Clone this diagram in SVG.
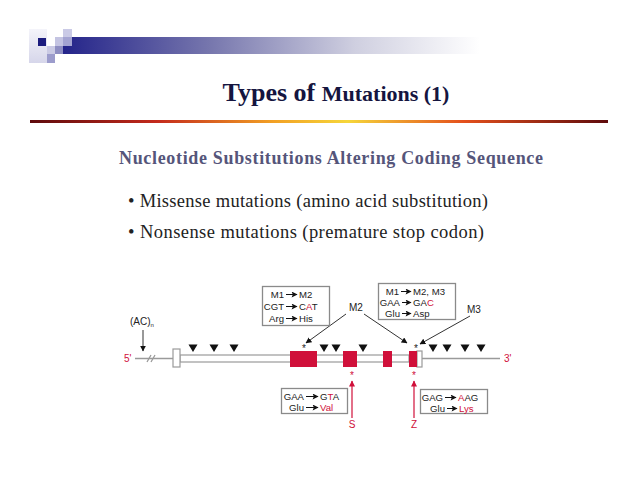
<svg xmlns="http://www.w3.org/2000/svg" width="638" height="493" viewBox="0 0 638 493">
<defs>
<linearGradient id="bar" x1="0" y1="0" x2="1" y2="0">
<stop offset="0" stop-color="#24248a"/>
<stop offset="0.35" stop-color="#7676ad"/>
<stop offset="0.7" stop-color="#cfcfe0"/>
<stop offset="1" stop-color="#ffffff"/>
</linearGradient>
<linearGradient id="rule" x1="0" y1="0" x2="1" y2="0">
<stop offset="0" stop-color="#5e0a0c"/>
<stop offset="0.22" stop-color="#c42a1c"/>
<stop offset="0.42" stop-color="#f2a024"/>
<stop offset="0.55" stop-color="#f6d63a"/>
<stop offset="0.75" stop-color="#e4501c"/>
<stop offset="1" stop-color="#5e0a0c"/>
</linearGradient>
<linearGradient id="sq" x1="0" y1="0" x2="0" y2="1">
<stop offset="0" stop-color="#f4f4fa"/>
<stop offset="1" stop-color="#d6d6ea"/>
</linearGradient>
<marker id="ah" viewBox="0 0 10 10" refX="9" refY="5" markerWidth="6" markerHeight="6" orient="auto" markerUnits="userSpaceOnUse">
<path d="M0,0 L10,5 L0,10 Z" fill="#111"/>
</marker>
<marker id="sh" viewBox="0 0 10 10" refX="9" refY="5" markerWidth="7" markerHeight="6" orient="auto" markerUnits="userSpaceOnUse">
<path d="M0,0 L10,5 L0,10 L2,5 Z" fill="#111"/>
</marker>
<marker id="rh" viewBox="0 0 10 10" refX="9" refY="5" markerWidth="7" markerHeight="6" orient="auto" markerUnits="userSpaceOnUse">
<path d="M0,0 L10,5 L0,10 Z" fill="#d0103a"/>
</marker>
</defs>
<style>
.ttl{font-family:"Liberation Serif",serif;font-weight:bold;fill:#15153f}
.sub{font-family:"Liberation Serif",serif;font-weight:bold;font-size:18px;fill:#55557a}
.bul{font-family:"Liberation Serif",serif;font-size:18.5px;fill:#222}
.t{font-family:"Liberation Sans",Arial,sans-serif;font-size:9.6px;fill:#222}
.r{fill:#d0103a}
.box{fill:#fff;stroke:#8a8a8a;stroke-width:1.3}
.ba{stroke:#111;stroke-width:1;fill:none;marker-end:url(#sh)}
.ln{stroke:#9a9a9a;stroke-width:1.3;fill:none}
.exon{fill:#d0103a}
.tri{fill:#111}
.ar{stroke:#333;stroke-width:1;fill:none;marker-end:url(#ah)}
.rar{stroke:#d0103a;stroke-width:1.2;fill:none;marker-end:url(#rh)}
.lab{font-family:"Liberation Sans",Arial,sans-serif;font-size:10px;fill:#222}
.rl{font-family:"Liberation Sans",Arial,sans-serif;font-size:10px;fill:#d0103a}
</style>

<g id="header">
<rect x="29" y="29" width="18" height="34" fill="url(#sq)"/>
<rect x="38" y="38" width="8" height="8" fill="#1c1c7e"/>
<rect x="47" y="46" width="8" height="8" fill="#cacae4"/>
<rect x="47" y="54" width="8" height="9" fill="#9c9ccc"/>
<rect x="55" y="37" width="8" height="9" fill="#c4c4e2"/>
<rect x="55" y="46" width="8" height="8" fill="#8e8ec2"/>
<rect x="63" y="37" width="417" height="17" fill="url(#bar)"/>
<rect x="63" y="29" width="9" height="8" fill="#cacae6"/>
<rect x="63" y="37" width="9" height="9" fill="#a4a4d2"/>
</g>

<g id="title">
<text x="336" y="101" text-anchor="middle" class="ttl"><tspan font-size="26">Types of </tspan><tspan font-size="22">Mutations (1)</tspan></text>
<rect x="30" y="120" width="578" height="3" fill="url(#rule)"/>
</g>

<g id="text">
<text x="119" y="164" class="sub" textLength="424" lengthAdjust="spacing">Nucleotide Substitutions Altering Coding Sequence</text>
<text x="128" y="207" class="bul" textLength="360" lengthAdjust="spacing">• Missense mutations (amino acid substitution)</text>
<text x="128" y="238" class="bul" textLength="356" lengthAdjust="spacing">• Nonsense mutations (premature stop codon)</text>
</g>

<g id="gene">
<line x1="135" y1="358.5" x2="173" y2="358.5" class="ln"/>
<line x1="147" y1="362" x2="151" y2="355" class="ln" stroke="#888"/>
<line x1="151" y1="362" x2="155" y2="355" class="ln" stroke="#888"/>
<rect x="180" y="355" width="229" height="7" fill="#fff" stroke="#9a9a9a" stroke-width="1.2"/>
<rect x="173" y="349" width="7" height="18" fill="#fff" stroke="#9a9a9a" stroke-width="1.2"/>
<rect x="290" y="351" width="27" height="16" class="exon"/>
<rect x="343" y="351" width="14" height="16" class="exon"/>
<rect x="383" y="351" width="9" height="16" class="exon"/>
<rect x="417" y="351" width="5" height="16" fill="#fff" stroke="#9a9a9a" stroke-width="1.2"/>
<rect x="409" y="351" width="8" height="16" class="exon"/>
<line x1="422" y1="358.5" x2="500" y2="358.5" class="ln"/>
<text x="124" y="362" class="rl">5'</text>
<text x="504" y="362" class="rl">3'</text>
</g>

<g id="sites">
<path class="tri" d="M188.5,344.5 h9 l-4.5,7.5 z"/>
<path class="tri" d="M209.5,344.5 h9 l-4.5,7.5 z"/>
<path class="tri" d="M229.5,344.5 h9 l-4.5,7.5 z"/>
<path class="tri" d="M319.5,344.5 h9 l-4.5,7.5 z"/>
<path class="tri" d="M331.5,344.5 h9 l-4.5,7.5 z"/>
<path class="tri" d="M358.5,344.5 h9 l-4.5,7.5 z"/>
<path class="tri" d="M428.5,344.5 h9 l-4.5,7.5 z"/>
<path class="tri" d="M442.5,344.5 h9 l-4.5,7.5 z"/>
<path class="tri" d="M460.5,344.5 h9 l-4.5,7.5 z"/>
<path class="tri" d="M476.5,344.5 h9 l-4.5,7.5 z"/>
<text x="304" y="352" class="lab" text-anchor="middle" font-size="9" fill="#111">*</text>
<text x="416" y="352" class="lab" text-anchor="middle" font-size="9" fill="#111">*</text>
<text x="352" y="379" class="rl" text-anchor="middle" font-size="9">*</text>
<text x="414" y="379" class="rl" text-anchor="middle" font-size="9">*</text>
</g>

<g id="connectors">
<line x1="143" y1="330" x2="143" y2="351" class="ar"/>
<line x1="346" y1="314" x2="306" y2="343" class="ar"/>
<line x1="364" y1="314" x2="407" y2="343" class="ar"/>
<line x1="470" y1="316" x2="420" y2="344" class="ar"/>
<line x1="352" y1="418" x2="352" y2="381" class="rar"/>
<line x1="414" y1="418" x2="414" y2="381" class="rar"/>
</g>

<g id="labels">
<text x="130" y="325" class="lab">(AC)<tspan font-size="6" dy="2">n</tspan></text>
<text x="349" y="311" class="lab">M2</text>
<text x="467" y="313" class="lab">M3</text>
<text x="352" y="428" class="rl" text-anchor="middle">S</text>
<text x="414" y="428" class="rl" text-anchor="middle">Z</text>
</g>

<g id="box-m2">
<rect x="262.5" y="286.5" width="67" height="39" class="box"/>
<text x="284" y="298" class="t" text-anchor="end">M1</text>
<line x1="286" y1="294.5" x2="297" y2="294.5" class="ba"/>
<text x="299" y="298" class="t">M2</text>
<text x="284" y="310" class="t" text-anchor="end">CGT</text>
<line x1="286" y1="306.5" x2="297" y2="306.5" class="ba"/>
<text x="299" y="310" class="t">C<tspan class="r">A</tspan>T</text>
<text x="284" y="322" class="t" text-anchor="end">Arg</text>
<line x1="286" y1="318.5" x2="297" y2="318.5" class="ba"/>
<text x="299" y="322" class="t">His</text>
</g>

<g id="box-m3">
<rect x="378.5" y="283.5" width="77" height="36" class="box"/>
<text x="399" y="295" class="t" text-anchor="end">M1</text>
<line x1="401" y1="291.5" x2="411" y2="291.5" class="ba"/>
<text x="413" y="295" class="t">M2, M3</text>
<text x="400" y="306" class="t" text-anchor="end">GAA</text>
<line x1="402" y1="302.5" x2="411" y2="302.5" class="ba"/>
<text x="413" y="306" class="t">GA<tspan class="r">C</tspan></text>
<text x="400" y="317" class="t" text-anchor="end">Glu</text>
<line x1="402" y1="313.5" x2="411" y2="313.5" class="ba"/>
<text x="413" y="317" class="t">Asp</text>
</g>

<g id="box-s">
<rect x="281.5" y="388.5" width="66" height="25" class="box"/>
<text x="304" y="400" class="t" text-anchor="end">GAA</text>
<line x1="306" y1="396.5" x2="318" y2="396.5" class="ba"/>
<text x="320" y="400" class="t">G<tspan class="r">T</tspan>A</text>
<text x="304" y="411" class="t" text-anchor="end">Glu</text>
<line x1="306" y1="407.5" x2="318" y2="407.5" class="ba"/>
<text x="320" y="411" class="t r">Val</text>
</g>

<g id="box-z">
<rect x="420.5" y="389.5" width="67" height="24" class="box"/>
<text x="443" y="401" class="t" text-anchor="end">GAG</text>
<line x1="445" y1="397.5" x2="456" y2="397.5" class="ba"/>
<text x="458" y="401" class="t"><tspan class="r">A</tspan>AG</text>
<text x="445" y="412" class="t" text-anchor="end">Glu</text>
<line x1="447" y1="408.5" x2="457" y2="408.5" class="ba"/>
<text x="459" y="412" class="t r">Lys</text>
</g>
</svg>
